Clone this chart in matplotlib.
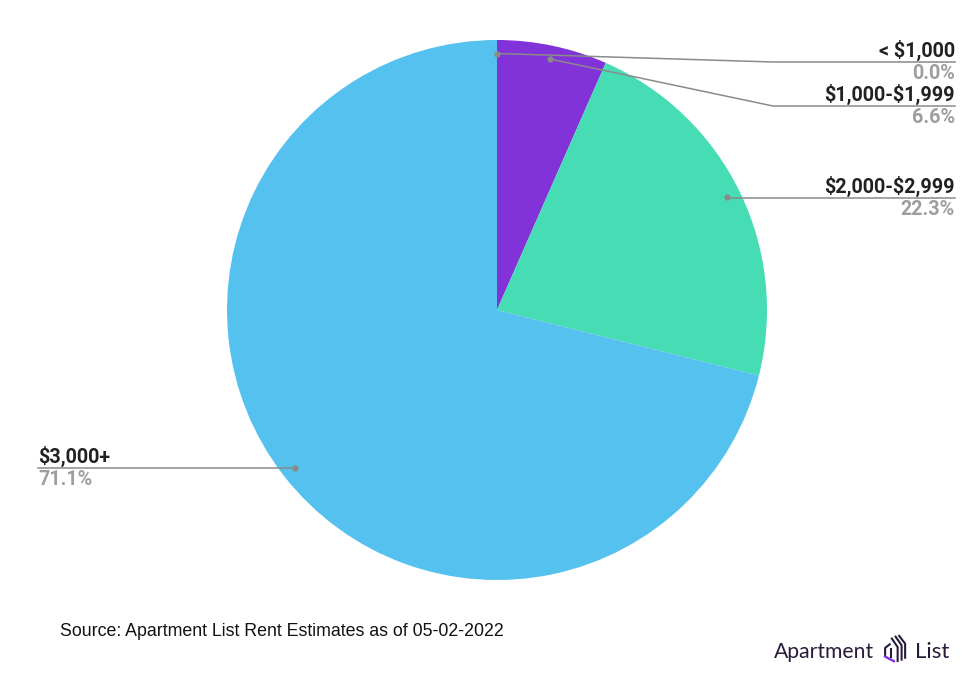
import matplotlib.pyplot as plt
import numpy as np

plt.rcParams['text.parse_math'] = False

labels = ['< $1,000', '$1,000-$1,999', '$2,000-$2,999', '$3,000+']
values = [0.0, 6.6, 22.3, 71.1]
colors = ['#3B6FD6', '#8132D9', '#47DDB4', '#55C1EE']

W, H = 980, 689
cx, cy, R = 497, 310, 270

fig = plt.figure(figsize=(9.8, 6.89), dpi=100)
ax = fig.add_axes([0, 0, 1, 1])

ax.pie(values, colors=colors, startangle=90, counterclock=False,
       center=(cx, H - cy), radius=R, wedgeprops=dict(linewidth=0))
ax.set_xlim(0, W)
ax.set_ylim(0, H)
ax.set_aspect('equal')
ax.axis('off')

def Y(y):
    return H - y

# leader lines: dot at 0.95 R on the slice middle
total = sum(values)
ang = 90.0
line_col = '#8a8a8a'
pct_col = '#9e9e9e'
elbows = [(773, 62), (773, 106), None, None]
line_y = [62, 106, 198, 468]
for i, (lab, v) in enumerate(zip(labels, values)):
    sweep = 360.0 * v / total
    mid = np.deg2rad(ang - sweep / 2)
    ang -= sweep
    px = cx + 0.95 * R * np.cos(mid)
    py = cy - 0.95 * R * np.sin(mid)
    ly = line_y[i]
    if i < 3:
        if elbows[i]:
            xs = [px, elbows[i][0], 955]
            ys = [py, ly, ly]
        else:
            xs = [px, 955]
            ys = [ly, ly]
        ha, tx = 'right', 955
    else:
        xs = [px, 38]
        ys = [ly, ly]
        ha, tx = 'left', 38
    ax.plot(xs, [Y(y) for y in ys], color=line_col, lw=1.1, zorder=3)
    ax.plot([px], [Y(py)], 'o', color=line_col, ms=3.5, zorder=4)
    ax.text(tx, Y(ly - 5), lab, ha=ha, va='baseline', fontsize=14.2,
            fontweight='bold', family='Roboto', color='#212121')
    ax.text(tx, Y(ly + 17), f'{v:.1f}%', ha=ha, va='baseline', fontsize=14.2,
            fontweight='bold', family='Roboto', color=pct_col)

ax.text(60, Y(636), 'Source: Apartment List Rent Estimates as of 05-02-2022',
        ha='left', va='baseline', fontsize=12.8, family='Liberation Sans',
        color='#111111')

# logo
dark = '#2a1b3d'
ax.text(774, Y(658), 'Apartment', ha='left', va='baseline', fontsize=15.2,
        family='Lato', color=dark)
ax.text(915, Y(658), 'List', ha='left', va='baseline', fontsize=16,
        family='Lato', color=dark)

# icon drawn in a small box (x0, y0 top-left, size w x h)
x0, y0, w, h = 884, 635, 22, 27
def ic(px, py):
    return [x0 + p * w for p in px], [Y(y0 + q * h) for q in py]

for px, py in [
    ([0.30, 0.05, 0.05], [0.32, 0.48, 0.80]),
    ([0.30, 0.30], [0.48, 0.86]),
    ([0.33, 0.62, 0.62], [0.10, 0.45, 1.00]),
    ([0.50, 0.80, 0.80], [0.03, 0.38, 0.95]),
    ([0.66, 0.96, 0.96], [0.00, 0.32, 0.88]),
]:
    xs, ys = ic(px, py)
    ax.plot(xs, ys, color=dark, lw=1.5, solid_capstyle='butt')
xs, ys = ic([0.05, 0.45], [0.80, 0.97])
ax.plot(xs, ys, color='#8132D9', lw=1.7)

fig.savefig('out.png', dpi=100, facecolor='white')
